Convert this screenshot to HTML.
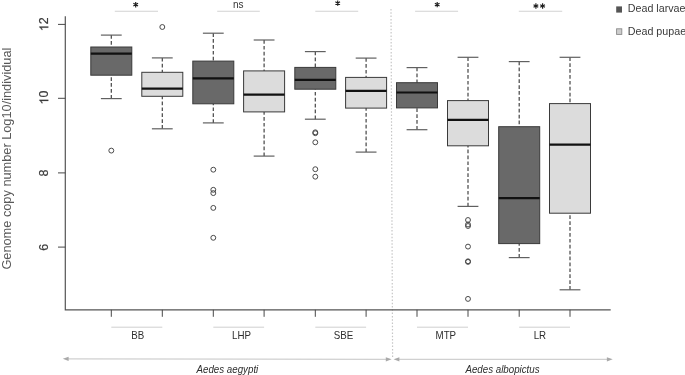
<!DOCTYPE html>
<html><head><meta charset="utf-8"><title>Boxplot</title>
<style>
html,body{margin:0;padding:0;background:#fff;}
body{width:685px;height:375px;overflow:hidden;}
svg{display:block;font-family:"Liberation Sans",sans-serif;filter:blur(0.35px);}
</style></head><body>
<svg width="685" height="375" viewBox="0 0 685 375">
<rect x="0" y="0" width="685" height="375" fill="#fff"/>
<line x1="391" y1="9" x2="392.6" y2="358" stroke="#c6c6c6" stroke-width="1.2" stroke-dasharray="1.5 1.8"/>
<path d="M65.3 16.3 V309.8 H610.7" fill="none" stroke="#555" stroke-width="1.2"/>
<line x1="58" y1="24.4" x2="65.3" y2="24.4" stroke="#484848" stroke-width="1"/>
<line x1="58" y1="98.3" x2="65.3" y2="98.3" stroke="#484848" stroke-width="1"/>
<line x1="58" y1="172.9" x2="65.3" y2="172.9" stroke="#484848" stroke-width="1"/>
<line x1="58" y1="247.1" x2="65.3" y2="247.1" stroke="#484848" stroke-width="1"/>
<line x1="111.3" y1="309.8" x2="111.3" y2="316.8" stroke="#484848" stroke-width="1"/>
<line x1="162.3" y1="309.8" x2="162.3" y2="316.8" stroke="#484848" stroke-width="1"/>
<line x1="213.3" y1="309.8" x2="213.3" y2="316.8" stroke="#484848" stroke-width="1"/>
<line x1="264.1" y1="309.8" x2="264.1" y2="316.8" stroke="#484848" stroke-width="1"/>
<line x1="315.3" y1="309.8" x2="315.3" y2="316.8" stroke="#484848" stroke-width="1"/>
<line x1="366.1" y1="309.8" x2="366.1" y2="316.8" stroke="#484848" stroke-width="1"/>
<line x1="417.0" y1="309.8" x2="417.0" y2="316.8" stroke="#484848" stroke-width="1"/>
<line x1="468.0" y1="309.8" x2="468.0" y2="316.8" stroke="#484848" stroke-width="1"/>
<line x1="519.2" y1="309.8" x2="519.2" y2="316.8" stroke="#484848" stroke-width="1"/>
<line x1="570.0" y1="309.8" x2="570.0" y2="316.8" stroke="#484848" stroke-width="1"/>
<g transform="translate(48.3,24.3) rotate(-90)" fill="#3c3c3c" stroke="#3c3c3c" stroke-width="0.2"><path transform="translate(-6.9,0) scale(1.035)" d="M4.47 0H3.42V-6.72Q3.04 -6.36 2.42 -5.99Q1.8 -5.63 1.31 -5.45V-6.47Q2.19 -6.88 2.85 -7.48Q3.52 -8.07 3.79 -8.63H4.47Z"/><text x="0" y="0" font-size="12.4">2</text></g>
<g transform="translate(48.3,97.6) rotate(-90)" fill="#3c3c3c" stroke="#3c3c3c" stroke-width="0.2"><path transform="translate(-6.9,0) scale(1.035)" d="M4.47 0H3.42V-6.72Q3.04 -6.36 2.42 -5.99Q1.8 -5.63 1.31 -5.45V-6.47Q2.19 -6.88 2.85 -7.48Q3.52 -8.07 3.79 -8.63H4.47Z"/><text x="0" y="0" font-size="12.4">0</text></g>
<text transform="translate(48.2,173.1) rotate(-90)" text-anchor="middle" font-size="12.4" fill="#3c3c3c" stroke="#3c3c3c" stroke-width="0.2">8</text>
<text transform="translate(48.2,247.3) rotate(-90)" text-anchor="middle" font-size="12.4" fill="#3c3c3c" stroke="#3c3c3c" stroke-width="0.2">6</text>
<text transform="translate(11.3,158.6) rotate(-90) scale(0.975,1)" text-anchor="middle" font-size="13.1" fill="#595959">Genome copy number Log10/individual</text>
<g>
<line x1="111.3" y1="35.1" x2="111.3" y2="47.0" stroke="#444" stroke-width="1.2" stroke-dasharray="3.7 2.2"/>
<line x1="111.3" y1="98.6" x2="111.3" y2="75.2" stroke="#444" stroke-width="1.2" stroke-dasharray="3.7 2.2"/>
<line x1="100.9" y1="35.1" x2="121.7" y2="35.1" stroke="#606060" stroke-width="1.2"/>
<line x1="100.9" y1="98.6" x2="121.7" y2="98.6" stroke="#606060" stroke-width="1.2"/>
<rect x="90.8" y="47.0" width="41.0" height="28.2" fill="#696969" stroke="#3a3a3a" stroke-width="1"/>
<line x1="90.8" y1="53.7" x2="131.8" y2="53.7" stroke="#111" stroke-width="2.2"/>
<circle cx="111.3" cy="150.6" r="2.45" fill="none" stroke="#4a4a4a" stroke-width="1"/>
</g>
<g>
<line x1="162.3" y1="57.9" x2="162.3" y2="72.3" stroke="#444" stroke-width="1.2" stroke-dasharray="3.7 2.2"/>
<line x1="162.3" y1="128.8" x2="162.3" y2="96.3" stroke="#444" stroke-width="1.2" stroke-dasharray="3.7 2.2"/>
<line x1="151.9" y1="57.9" x2="172.7" y2="57.9" stroke="#606060" stroke-width="1.2"/>
<line x1="151.9" y1="128.8" x2="172.7" y2="128.8" stroke="#606060" stroke-width="1.2"/>
<rect x="141.8" y="72.3" width="41.0" height="24.0" fill="#dcdcdc" stroke="#3a3a3a" stroke-width="1"/>
<line x1="141.8" y1="88.6" x2="182.8" y2="88.6" stroke="#111" stroke-width="2.2"/>
<circle cx="162.3" cy="27.0" r="2.45" fill="none" stroke="#4a4a4a" stroke-width="1"/>
</g>
<g>
<line x1="213.3" y1="33.2" x2="213.3" y2="61.1" stroke="#444" stroke-width="1.2" stroke-dasharray="3.7 2.2"/>
<line x1="213.3" y1="122.9" x2="213.3" y2="103.8" stroke="#444" stroke-width="1.2" stroke-dasharray="3.7 2.2"/>
<line x1="202.9" y1="33.2" x2="223.7" y2="33.2" stroke="#606060" stroke-width="1.2"/>
<line x1="202.9" y1="122.9" x2="223.7" y2="122.9" stroke="#606060" stroke-width="1.2"/>
<rect x="192.8" y="61.1" width="41.0" height="42.7" fill="#696969" stroke="#3a3a3a" stroke-width="1"/>
<line x1="192.8" y1="78.4" x2="233.8" y2="78.4" stroke="#111" stroke-width="2.2"/>
<circle cx="213.3" cy="169.7" r="2.45" fill="none" stroke="#4a4a4a" stroke-width="1"/>
<circle cx="213.3" cy="189.8" r="2.45" fill="none" stroke="#4a4a4a" stroke-width="1"/>
<circle cx="213.3" cy="193.1" r="2.45" fill="none" stroke="#4a4a4a" stroke-width="1"/>
<circle cx="213.3" cy="207.9" r="2.45" fill="none" stroke="#4a4a4a" stroke-width="1"/>
<circle cx="213.3" cy="237.8" r="2.45" fill="none" stroke="#4a4a4a" stroke-width="1"/>
</g>
<g>
<line x1="264.1" y1="40.0" x2="264.1" y2="70.9" stroke="#444" stroke-width="1.2" stroke-dasharray="3.7 2.2"/>
<line x1="264.1" y1="156.1" x2="264.1" y2="111.9" stroke="#444" stroke-width="1.2" stroke-dasharray="3.7 2.2"/>
<line x1="253.7" y1="40.0" x2="274.5" y2="40.0" stroke="#606060" stroke-width="1.2"/>
<line x1="253.7" y1="156.1" x2="274.5" y2="156.1" stroke="#606060" stroke-width="1.2"/>
<rect x="243.6" y="70.9" width="41.0" height="41.0" fill="#dcdcdc" stroke="#3a3a3a" stroke-width="1"/>
<line x1="243.6" y1="94.6" x2="284.6" y2="94.6" stroke="#111" stroke-width="2.2"/>
</g>
<g>
<line x1="315.3" y1="51.6" x2="315.3" y2="67.4" stroke="#444" stroke-width="1.2" stroke-dasharray="3.7 2.2"/>
<line x1="315.3" y1="119.2" x2="315.3" y2="89.2" stroke="#444" stroke-width="1.2" stroke-dasharray="3.7 2.2"/>
<line x1="304.9" y1="51.6" x2="325.7" y2="51.6" stroke="#606060" stroke-width="1.2"/>
<line x1="304.9" y1="119.2" x2="325.7" y2="119.2" stroke="#606060" stroke-width="1.2"/>
<rect x="294.8" y="67.4" width="41.0" height="21.8" fill="#696969" stroke="#3a3a3a" stroke-width="1"/>
<line x1="294.8" y1="79.9" x2="335.8" y2="79.9" stroke="#111" stroke-width="2.2"/>
<circle cx="315.3" cy="132.3" r="2.45" fill="none" stroke="#4a4a4a" stroke-width="1"/>
<circle cx="315.3" cy="133.2" r="2.45" fill="none" stroke="#4a4a4a" stroke-width="1"/>
<circle cx="315.3" cy="142.3" r="2.45" fill="none" stroke="#4a4a4a" stroke-width="1"/>
<circle cx="315.3" cy="169.2" r="2.45" fill="none" stroke="#4a4a4a" stroke-width="1"/>
<circle cx="315.3" cy="176.7" r="2.45" fill="none" stroke="#4a4a4a" stroke-width="1"/>
</g>
<g>
<line x1="366.1" y1="58.1" x2="366.1" y2="77.4" stroke="#444" stroke-width="1.2" stroke-dasharray="3.7 2.2"/>
<line x1="366.1" y1="152.1" x2="366.1" y2="108.1" stroke="#444" stroke-width="1.2" stroke-dasharray="3.7 2.2"/>
<line x1="355.7" y1="58.1" x2="376.5" y2="58.1" stroke="#606060" stroke-width="1.2"/>
<line x1="355.7" y1="152.1" x2="376.5" y2="152.1" stroke="#606060" stroke-width="1.2"/>
<rect x="345.6" y="77.4" width="41.0" height="30.7" fill="#dcdcdc" stroke="#3a3a3a" stroke-width="1"/>
<line x1="345.6" y1="90.8" x2="386.6" y2="90.8" stroke="#111" stroke-width="2.2"/>
</g>
<g>
<line x1="417.0" y1="67.6" x2="417.0" y2="82.7" stroke="#444" stroke-width="1.2" stroke-dasharray="3.7 2.2"/>
<line x1="417.0" y1="129.7" x2="417.0" y2="107.9" stroke="#444" stroke-width="1.2" stroke-dasharray="3.7 2.2"/>
<line x1="406.6" y1="67.6" x2="427.4" y2="67.6" stroke="#606060" stroke-width="1.2"/>
<line x1="406.6" y1="129.7" x2="427.4" y2="129.7" stroke="#606060" stroke-width="1.2"/>
<rect x="396.5" y="82.7" width="41.0" height="25.2" fill="#696969" stroke="#3a3a3a" stroke-width="1"/>
<line x1="396.5" y1="92.5" x2="437.5" y2="92.5" stroke="#111" stroke-width="2.2"/>
</g>
<g>
<line x1="468.0" y1="57.3" x2="468.0" y2="100.6" stroke="#444" stroke-width="1.2" stroke-dasharray="3.7 2.2"/>
<line x1="468.0" y1="206.4" x2="468.0" y2="145.8" stroke="#444" stroke-width="1.2" stroke-dasharray="3.7 2.2"/>
<line x1="457.6" y1="57.3" x2="478.4" y2="57.3" stroke="#606060" stroke-width="1.2"/>
<line x1="457.6" y1="206.4" x2="478.4" y2="206.4" stroke="#606060" stroke-width="1.2"/>
<rect x="447.5" y="100.6" width="41.0" height="45.2" fill="#dcdcdc" stroke="#3a3a3a" stroke-width="1"/>
<line x1="447.5" y1="119.9" x2="488.5" y2="119.9" stroke="#111" stroke-width="2.2"/>
<circle cx="468.0" cy="220.0" r="2.45" fill="none" stroke="#4a4a4a" stroke-width="1"/>
<circle cx="468.0" cy="224.5" r="2.45" fill="none" stroke="#4a4a4a" stroke-width="1"/>
<circle cx="468.0" cy="226.0" r="2.45" fill="none" stroke="#4a4a4a" stroke-width="1"/>
<circle cx="468.0" cy="246.6" r="2.45" fill="none" stroke="#4a4a4a" stroke-width="1"/>
<circle cx="468.0" cy="261.3" r="2.45" fill="none" stroke="#4a4a4a" stroke-width="1"/>
<circle cx="468.0" cy="261.9" r="2.45" fill="none" stroke="#4a4a4a" stroke-width="1"/>
<circle cx="468.0" cy="298.9" r="2.45" fill="none" stroke="#4a4a4a" stroke-width="1"/>
</g>
<g>
<line x1="519.2" y1="61.6" x2="519.2" y2="126.7" stroke="#444" stroke-width="1.2" stroke-dasharray="3.7 2.2"/>
<line x1="519.2" y1="257.6" x2="519.2" y2="243.6" stroke="#444" stroke-width="1.2" stroke-dasharray="3.7 2.2"/>
<line x1="508.8" y1="61.6" x2="529.6" y2="61.6" stroke="#606060" stroke-width="1.2"/>
<line x1="508.8" y1="257.6" x2="529.6" y2="257.6" stroke="#606060" stroke-width="1.2"/>
<rect x="498.7" y="126.7" width="41.0" height="116.9" fill="#696969" stroke="#3a3a3a" stroke-width="1"/>
<line x1="498.7" y1="198.1" x2="539.7" y2="198.1" stroke="#111" stroke-width="2.2"/>
</g>
<g>
<line x1="570.0" y1="57.3" x2="570.0" y2="103.6" stroke="#444" stroke-width="1.2" stroke-dasharray="3.7 2.2"/>
<line x1="570.0" y1="289.8" x2="570.0" y2="213.2" stroke="#444" stroke-width="1.2" stroke-dasharray="3.7 2.2"/>
<line x1="559.6" y1="57.3" x2="580.4" y2="57.3" stroke="#606060" stroke-width="1.2"/>
<line x1="559.6" y1="289.8" x2="580.4" y2="289.8" stroke="#606060" stroke-width="1.2"/>
<rect x="549.5" y="103.6" width="41.0" height="109.6" fill="#dcdcdc" stroke="#3a3a3a" stroke-width="1"/>
<line x1="549.5" y1="144.6" x2="590.5" y2="144.6" stroke="#111" stroke-width="2.2"/>
</g>
<line x1="114.8" y1="11.2" x2="158" y2="11.2" stroke="#d2d2d2" stroke-width="1.1"/>
<path d="M135.70 2.00L135.70 7.40M133.36 3.35L138.04 6.05M138.04 3.35L133.36 6.05" stroke="#1e1e1e" stroke-width="1.15" fill="none"/>
<line x1="217.2" y1="11.2" x2="259.8" y2="11.2" stroke="#d2d2d2" stroke-width="1.1"/>
<text transform="translate(238.2,7.8) scale(0.95,1)" text-anchor="middle" font-size="10.5" fill="#333">ns</text>
<line x1="315.3" y1="11.2" x2="358.2" y2="11.2" stroke="#d2d2d2" stroke-width="1.1"/>
<path d="M337.70 0.40L337.70 5.80M335.36 1.75L340.04 4.45M340.04 1.75L335.36 4.45" stroke="#1e1e1e" stroke-width="1.15" fill="none"/>
<line x1="415.1" y1="11.2" x2="458.1" y2="11.2" stroke="#d2d2d2" stroke-width="1.1"/>
<path d="M437.20 1.90L437.20 7.30M434.86 3.25L439.54 5.95M439.54 3.25L434.86 5.95" stroke="#1e1e1e" stroke-width="1.15" fill="none"/>
<line x1="518.8" y1="11.2" x2="562.2" y2="11.2" stroke="#d2d2d2" stroke-width="1.1"/>
<path d="M535.90 3.30L535.90 8.70M533.56 4.65L538.24 7.35M538.24 4.65L533.56 7.35" stroke="#1e1e1e" stroke-width="1.15" fill="none"/>
<path d="M542.60 3.30L542.60 8.70M540.26 4.65L544.94 7.35M544.94 4.65L540.26 7.35" stroke="#1e1e1e" stroke-width="1.15" fill="none"/>
<line x1="111.3" y1="327.2" x2="162.3" y2="327.2" stroke="#cfcfcf" stroke-width="1"/>
<text transform="translate(137.7,339.1) scale(0.93,1)" text-anchor="middle" font-size="10.5" fill="#2e2e2e">BB</text>
<line x1="213.3" y1="327.2" x2="264.1" y2="327.2" stroke="#cfcfcf" stroke-width="1"/>
<text transform="translate(241.6,339.1) scale(0.93,1)" text-anchor="middle" font-size="10.5" fill="#2e2e2e">LHP</text>
<line x1="315.3" y1="327.2" x2="366.1" y2="327.2" stroke="#cfcfcf" stroke-width="1"/>
<text transform="translate(343.5,339.1) scale(0.93,1)" text-anchor="middle" font-size="10.5" fill="#2e2e2e">SBE</text>
<line x1="417.0" y1="327.2" x2="468.0" y2="327.2" stroke="#cfcfcf" stroke-width="1"/>
<text transform="translate(445.8,339.1) scale(0.93,1)" text-anchor="middle" font-size="10.5" fill="#2e2e2e">MTP</text>
<line x1="519.2" y1="327.2" x2="570.0" y2="327.2" stroke="#cfcfcf" stroke-width="1"/>
<text transform="translate(539.9,339.1) scale(0.93,1)" text-anchor="middle" font-size="10.5" fill="#2e2e2e">LR</text>
<line x1="67" y1="358.8" x2="387" y2="359.3" stroke="#d0d0d0" stroke-width="1.2"/>
<path d="M62.8 358.8 L68.6 356.7 V360.90000000000003 Z" fill="#a9a9a9"/>
<path d="M391.6 359.3 L385.8 357.2 V361.40000000000003 Z" fill="#a9a9a9"/>
<line x1="398" y1="359.3" x2="608" y2="359.3" stroke="#d0d0d0" stroke-width="1.2"/>
<path d="M393.6 359.3 L399.4 357.2 V361.40000000000003 Z" fill="#a9a9a9"/>
<path d="M612.7 359.3 L606.9 357.2 V361.40000000000003 Z" fill="#a9a9a9"/>
<text transform="translate(227.4,372.6) scale(0.955,1)" text-anchor="middle" font-size="10.2" font-style="italic" fill="#2e2e2e">Aedes aegypti</text>
<text transform="translate(502.5,372.6) scale(0.955,1)" text-anchor="middle" font-size="10.2" font-style="italic" fill="#2e2e2e">Aedes albopictus</text>
<rect x="616.2" y="6.4" width="5.8" height="6.2" fill="#555"/>
<text transform="translate(627.8,12.3) scale(0.94,1)" font-size="11.4" fill="#3a3a3a">Dead larvae</text>
<rect x="616.6" y="28.8" width="5.2" height="5.6" fill="#cdcdcd" stroke="#8a8a8a" stroke-width="0.9"/>
<text transform="translate(627.8,35.0) scale(0.94,1)" font-size="11.4" fill="#3a3a3a">Dead pupae</text>
</svg>
</body></html>
